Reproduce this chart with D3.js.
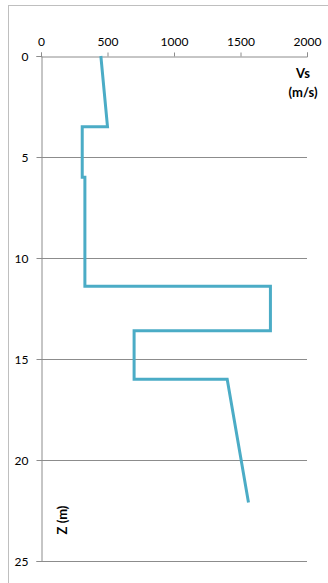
<!DOCTYPE html>
<html>
<head>
<meta charset="utf-8">
<script src="https://cdn.jsdelivr.net/npm/d3@7"></script>
<style>
  body { margin: 0; background: #fff; }
  svg { display: block; font-family: Lato, "Open Sans", sans-serif; }
</style>
</head>
<body>
<div id="app"></div>
<script>
// Vs profile
const vs    = [450, 500, 310, 310, 330, 330, 1725, 1725, 700, 700, 1400, 1560];
const depth = [0,   3.5, 3.5, 6,   6,   11.4, 11.4, 13.6, 13.6, 16, 16,  22.1];
const xTicks = [0, 500, 1000, 1500, 2000];
const yTicks = [0, 5, 10, 15, 20, 25];

const w = 328, h = 583;
const mLeft = 41, mRight = 307, mTop = 56, mBottom = 561;

const svg = d3.select("#app").append("svg")
  .attr("width", w)
  .attr("height", h);

// chart border, runs past the right and bottom edge
svg.append("rect")
  .attr("x", 8.5).attr("y", 5.5)
  .attr("width", 340).attr("height", 600)
  .attr("fill", "none")
  .attr("stroke", "#bfbfbf");

const x = d3.scaleLinear().domain([0, 2000]).range([mLeft, mRight]);
const y = d3.scaleLinear().domain([0, 25]).range([mTop, mBottom]);

// horizontal gridlines
svg.append("g")
  .selectAll("line")
  .data(yTicks.slice(1))
  .enter()
  .append("line")
  .attr("x1", mLeft).attr("x2", mRight)
  .attr("y1", d => Math.round(y(d)) + 0.5)
  .attr("y2", d => Math.round(y(d)) + 0.5)
  .attr("stroke", "#8c8c8c");

// top axis
const xAxis = svg.append("g")
  .attr("transform", "translate(0," + (Math.round(mTop) + 0.5) + ")")
  .call(d3.axisTop(x).tickValues(xTicks).tickFormat(d3.format("d"))
    .tickSize(4).tickPadding(7));

// left axis
const yAxis = svg.append("g")
  .attr("transform", "translate(" + (mLeft + 0.5) + ",0)")
  .call(d3.axisLeft(y).tickValues(yTicks).tickFormat(d3.format("d"))
    .tickSize(5).tickPadding(8));

[xAxis, yAxis].forEach(function (g) {
  g.select(".domain").attr("stroke", "#8c8c8c");
  g.selectAll(".tick line").attr("stroke", "#8c8c8c");
  g.selectAll(".tick text")
    .attr("fill", "#000")
    .attr("font-size", "12px")
    .attr("font-family", "Lato, 'Open Sans', sans-serif");
});
yAxis.selectAll(".tick text").attr("dy", "0.35em");

// Vs line
const line = d3.line()
  .x((d, i) => x(vs[i]))
  .y((d, i) => y(depth[i]));

svg.append("path")
  .datum(vs)
  .attr("d", line)
  .attr("fill", "none")
  .attr("stroke", "#4bacc6")
  .attr("stroke-width", 3)
  .attr("stroke-linejoin", "miter");

// axis titles
const vsTitle = svg.append("text")
  .attr("text-anchor", "middle")
  .attr("font-size", "13px")
  .attr("font-weight", "bold")
  .attr("fill", "#000");
vsTitle.append("tspan").attr("x", 303).attr("y", 78).text("Vs");
vsTitle.append("tspan").attr("x", 303).attr("y", 97).text("(m/s)");

svg.append("text")
  .attr("transform", "translate(67,520) rotate(-90)")
  .attr("text-anchor", "middle")
  .attr("font-size", "13px")
  .attr("font-weight", "bold")
  .attr("fill", "#000")
  .text("Z (m)");
</script>
</body>
</html>
